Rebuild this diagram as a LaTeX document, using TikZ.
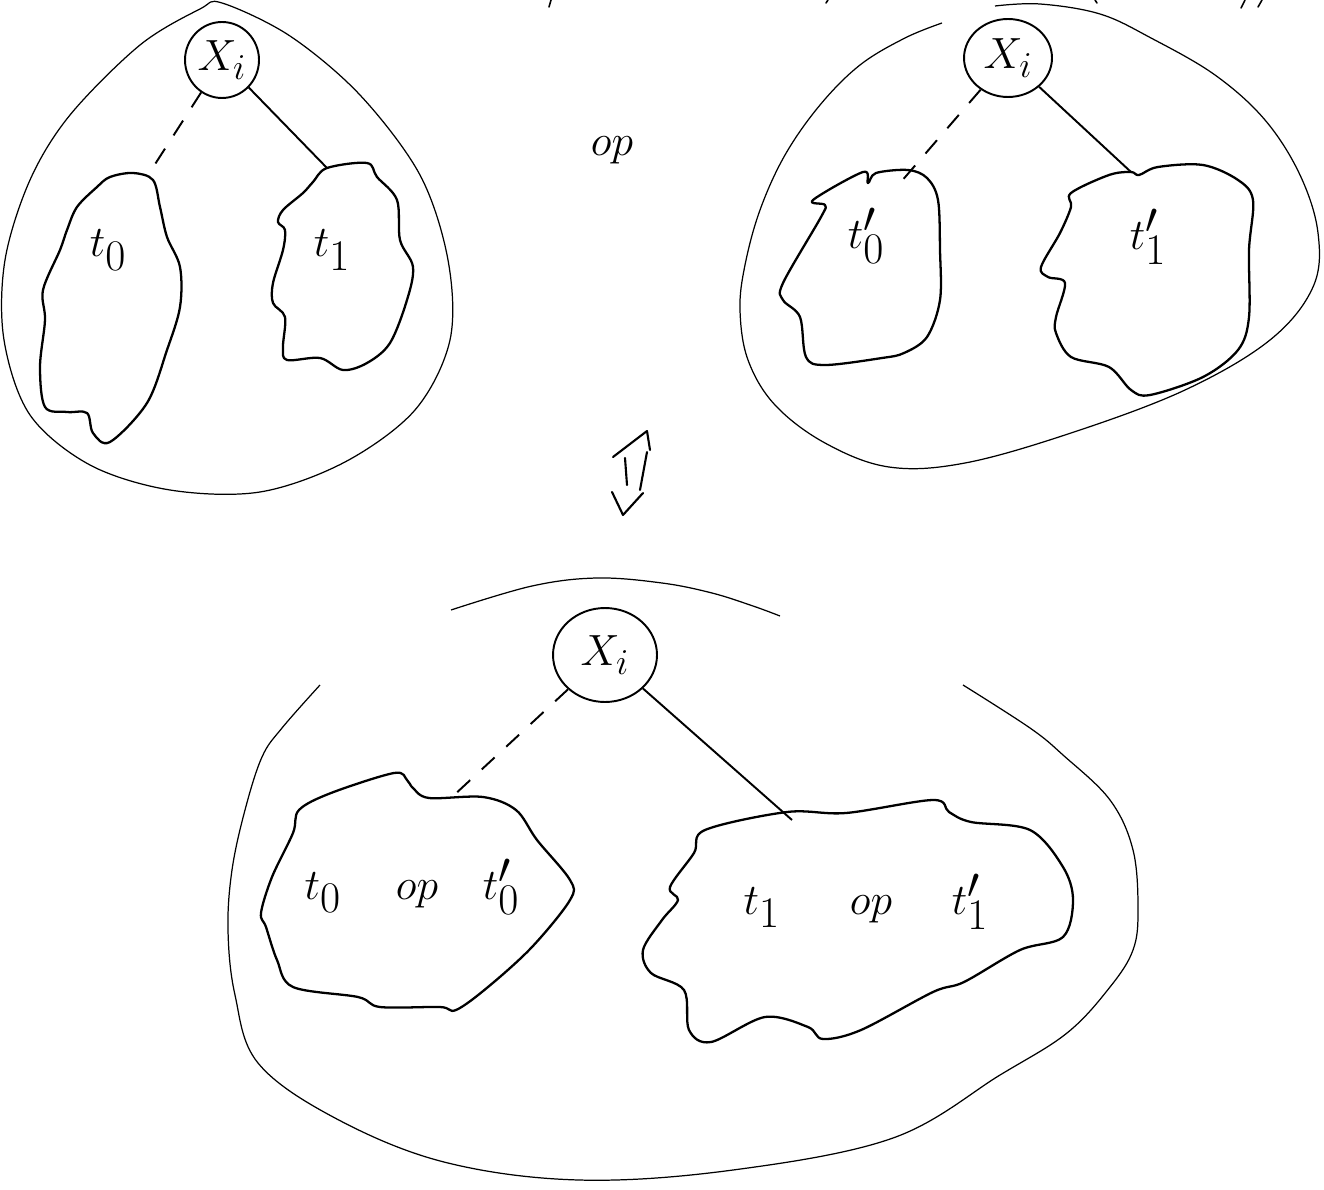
\documentclass[tikz,border=0pt]{standalone}
\usepackage{tikz}
\usetikzlibrary{shapes.geometric}
\begin{document}
\begin{tikzpicture}[x=0.02cm,y=-0.02cm,
  outer/.style={line width=0.7pt, line join=round},
  blob/.style={line width=1.3pt, line join=round},
  xnode/.style={draw, ellipse, line width=1.1pt, inner sep=0pt, font=\fontsize{28}{30}\selectfont},
  link/.style={line width=1.1pt},
  dlink/.style={link, dash pattern=on 10pt off 9pt},
  lbl/.style={font=\fontsize{36}{40}\selectfont, inner sep=0pt},
  blbl/.style={font=\fontsize{40}{44}\selectfont, inner sep=0pt},
  frag/.style={line width=0.9pt, line cap=round},
  arr/.style={line width=1.2pt, line join=round, line cap=round}]
\useasboundingbox (0,0) rectangle (1324,1189);

% ---------- cut-off strokes at the top edge ----------
\draw[frag] (551,0) -- (549,7);
\draw[frag] (828,0) -- (826,3);
\draw[frag] (1095,0) -- (1097,3);
\draw[frag] (1245,0) -- (1241,8);
\draw[frag] (1262,0) -- (1258,7);

% ---------- left tree ----------
\draw[outer] plot[smooth cycle, tension=0.55] coordinates {(222,3) (290,36) (360,95) (420,175) (448,260) (450,340) (415,410) (345,462) (260,492) (170,490) (90,465) (30,415) (4,340) (5,260) (30,180) (70,115) (140,45) (200,9)};
\node[xnode, minimum width=1.48cm, minimum height=1.52cm] (x1) at (222,60) {$X_i$};
\draw[blob] plot[smooth cycle, tension=0.55] coordinates {(110,177) (133,173) (153,180) (160,207) (167,237) (180,267) (180,307) (167,350) (147,403) (110,442) (93,433) (87,413) (67,412) (45,407) (40,367) (45,320) (43,290) (60,250) (67,230) (77,207) (97,187)};
\draw[blob] plot[smooth cycle, tension=0.55] coordinates {(327,168) (367,163) (377,177) (397,200) (400,240) (413,267) (407,300) (390,343) (367,363) (343,370) (320,358) (287,360) (283,347) (285,317) (273,303) (273,283) (283,250) (285,230) (278,222) (283,210) (303,193) (313,182)};
\coordinate (c0) at (150,172);
\coordinate (c1) at (327,168);
\draw[dlink] (x1) -- (c0);
\draw[link] (x1) -- (c1);
\node[lbl] (l0) at (108,250) {$t_0$};
\node[lbl] (l1) at (332,250) {$t_1$};

% ---------- op ----------
\node[lbl] (op) at (612,150) {$op$};

% ---------- right tree ----------
\draw[outer] plot[smooth, tension=0.6] coordinates {(942,23) (905,38) (860,65) (820,105) (785,155) (760,210) (745,265) (740,310) (748,360) (775,405) (825,443) (889,467) (965,463) (1071,433) (1185,390) (1270,340) (1313,287) (1318,233) (1300,175) (1265,120) (1215,75) (1151,38) (1100,14) (1040,4) (995,6)};
\node[xnode, minimum width=1.76cm, minimum height=1.56cm] (x2) at (1008,58) {$X_i$};
\draw[blob] plot[smooth cycle, tension=0.55] coordinates {(813,200) (863,172) (868,183) (876,173) (908,170) (927,178) (938,200) (940,250) (940,300) (927,337) (904,353) (882,358) (825,365) (806,357) (800,317) (783,300) (783,283) (821,217) (825,205)};
\draw[blob] plot[smooth cycle, tension=0.55] coordinates {(1071,193) (1109,175) (1131,172) (1139,175) (1158,167) (1203,165) (1238,180) (1253,200) (1249,250) (1249,317) (1238,350) (1203,377) (1150,395) (1131,390) (1109,367) (1071,357) (1056,333) (1056,317) (1065,283) (1048,277) (1041,267) (1060,233) (1071,207)};
\coordinate (c0p) at (900,183);
\coordinate (c1p) at (1131,172);
\draw[dlink] (x2) -- (c0p);
\draw[link] (x2) -- (c1p);
\node[lbl] (l0p) at (866,236) {$t_0'$};
\node[lbl] (l1p) at (1148,237) {$t_1'$};

% ---------- double arrow ----------
\coordinate (au) at (647,431);
\coordinate (ad) at (623,515);
\draw[arr] (613,457) -- (au) -- (650,450);
\draw[arr] (625,458) -- (627,485);
\draw[arr] (647,452) -- (640,490);
\draw[arr] (612,492) -- (ad) -- (643,493);

% ---------- bottom tree ----------
\draw[outer] plot[smooth, tension=0.6] coordinates {(320,685) (282,728) (262,757) (245,810) (232,870) (228,930) (235,995) (258,1063) (335,1118) (444,1162) (579,1180) (733,1170) (893,1138) (1000,1075) (1067,1033) (1110,987) (1133,950) (1138,910) (1133,850) (1110,800) (1063,755) (1030,728) (963,685)};
\draw[outer] plot[smooth, tension=0.6] coordinates {(451,610) (532,586) (597,578) (662,583) (712,593) (753,606) (780,616)};
\node[xnode, minimum width=2.08cm, minimum height=1.88cm] (x3) at (605,655) {$X_i$};
\draw[blob] plot[smooth cycle, tension=0.55] coordinates {(299,810) (331,793) (394,773) (407,780) (413,788) (429,798) (483,797) (516,810) (537,840) (570,880) (570,900) (532,947) (488,987) (456,1010) (440,1007) (380,1007) (358,997) (293,987) (277,960) (266,927) (261,913) (272,877) (293,833)};
\draw[blob] plot[smooth cycle, tension=0.55] coordinates {(705,830) (787,812) (846,813) (933,800) (949,812) (971,822) (1030,830) (1063,867) (1073,900) (1063,937) (1020,950) (964,982) (933,992) (861,1030) (823,1039) (808,1027) (765,1017) (711,1042) (689,1030) (684,990) (651,973) (643,950) (662,920) (678,900) (670,887) (694,853)};
\coordinate (c0b) at (452,797);
\coordinate (c1b) at (792,820);
\draw[dlink] (x3) -- (c0b);
\draw[link] (x3) -- (c1b);
\node[blbl] (lb0) at (412,887) {$t_0\hspace{1.1cm}op\hspace{0.9cm}t_0'$};
\node[blbl] (lb1) at (866,902) {$t_1\hspace{1.4cm}op\hspace{1.2cm}t_1'$};
\end{tikzpicture}
\end{document}
